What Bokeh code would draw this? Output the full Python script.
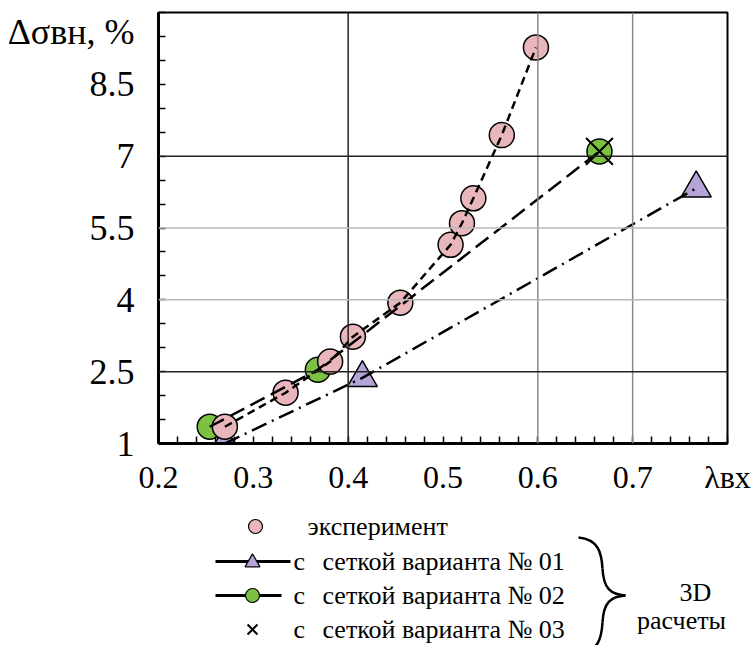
from bokeh.plotting import figure
from bokeh.models import FixedTicker, Span, Range1d
from bokeh.layouts import column
from bokeh.core.properties import value
from bokeh.embed import file_html
from bokeh.resources import INLINE

# ---------------- data ----------------
exp_x = [0.270, 0.334, 0.381, 0.405, 0.455, 0.508, 0.520, 0.532, 0.562, 0.598]
exp_y = [1.35, 2.06, 2.71, 3.23, 3.94, 5.15, 5.60, 6.12, 7.44, 9.27]
v01_x = [0.270, 0.415, 0.767]
v01_y = [1.00, 2.37, 6.33]
v02_x = [0.254, 0.368, 0.665]
v02_y = [1.35, 2.54, 7.10]
v03_x = [0.665]
v03_y = [7.10]

x_ticks = [0.2, 0.3, 0.4, 0.5, 0.6, 0.7]
y_ticks = [1, 2.5, 4, 5.5, 7, 8.5]
x_minor = [round(0.2 + 0.02 * i, 2) for i in range(31)]
y_minor = [1 + 0.5 * i for i in range(19)]
grid_dark_x = [0.4]
grid_light_x = [0.6, 0.7]
grid_dark_y = [2.5, 7]
grid_light_y = [4, 5.5]

x_title = "λвх"
y_title = "Δσвн, %"
x_title_pos = 0.8
y_title_pos = 9.6

legend_labels = ["эксперимент", "сеткой варианта № 01", "сеткой варианта № 02", "сеткой варианта № 03"]
legend_prefix = "с"
group_label = ["3D", "расчеты"]

FONT = "Liberation Serif"
PINK = "#E9B7BB"
GREEN = "#7CC142"
PURPLE = "#B5A4D8"

# ---------------- main plot ----------------
p = figure(width=755, height=508, x_range=Range1d(0.2, 0.8), y_range=Range1d(1, 10),
           output_backend="svg", toolbar_location=None,
           min_border_left=158, min_border_right=28, min_border_top=12, min_border_bottom=65)
p.background_fill_color = "white"
p.border_fill_color = "white"
p.outline_line_color = "black"
p.outline_line_width = 2
p.grid.visible = False

xt = x_ticks + [x_title_pos]
yt = y_ticks + [y_title_pos]
p.xaxis.ticker = FixedTicker(ticks=xt, minor_ticks=x_minor)
p.yaxis.ticker = FixedTicker(ticks=yt, minor_ticks=y_minor)
xo = {t: f"{t:.1f}" for t in x_ticks}
xo[x_title_pos] = x_title
yo = {t: (f"{t:g}") for t in y_ticks}
yo[y_title_pos] = y_title
p.xaxis.major_label_overrides = xo
p.yaxis.major_label_overrides = yo
for ax in (p.xaxis, p.yaxis):
    ax.axis_line_width = 3
    ax.axis_line_color = "black"
    ax.major_tick_in = 0
    ax.major_tick_out = 0
    ax.minor_tick_in = 7
    ax.minor_tick_out = 0
    ax.minor_tick_line_width = 1.5
    ax.minor_tick_line_color = "black"
    ax.major_label_text_font = FONT
    ax.major_label_text_color = "black"
p.xaxis.major_label_text_font_size = "32px"
p.yaxis.major_label_text_font_size = "36px"
p.xaxis.major_label_standoff = 15
p.yaxis.major_label_standoff = 24

for xv in grid_dark_x:
    p.add_layout(Span(location=xv, dimension="height", line_color="#222222", line_width=1.5))
for xv in grid_light_x:
    p.add_layout(Span(location=xv, dimension="height", line_color="#8a8a8a", line_width=1.5))
for yv in grid_dark_y:
    p.add_layout(Span(location=yv, dimension="width", line_color="#222222", line_width=1.5))
for yv in grid_light_y:
    p.add_layout(Span(location=yv, dimension="width", line_color="#b8b8b8", line_width=1.5))

# markers
p.scatter(v01_x, v01_y, marker="triangle", size=30, fill_color=PURPLE, line_color="black", line_width=1.5)
p.scatter(v02_x, v02_y, marker="circle", size=25, fill_color=GREEN, line_color="black", line_width=1.5)
p.scatter(v03_x, v03_y, marker="x", size=38, line_color="black", line_width=2)
p.scatter(exp_x, exp_y, marker="circle", size=25, fill_color=PINK, line_color="black", line_width=1.5)

# lines
p.line(v01_x, v01_y, line_color="black", line_width=2.5, line_dash="16 6 2 6")
p.line(v02_x, v02_y, line_color="black", line_width=2.5, line_dash="16 7")
p.line(exp_x, exp_y, line_color="black", line_width=2.5, line_dash="8 5")

# ---------------- legend panel ----------------
# frame aligned with the main plot frame; x range in page pixels, y downward
p2 = figure(width=755, height=137, x_range=Range1d(158, 727), y_range=Range1d(137, 0),
            output_backend="svg", toolbar_location=None,
            min_border_left=158, min_border_right=28, min_border_top=0, min_border_bottom=0,
            x_axis_location=None, y_axis_location=None)
p2.grid.visible = False
p2.outline_line_color = None
p2.background_fill_color = "white"
p2.border_fill_color = "white"

rows_y = [18, 53, 87, 121]
# row 1: experiment
p2.scatter([255], [rows_y[0]], marker="circle", size=14, fill_color=PINK, line_color="black", line_width=1.2)
# row 2: variant 01
p2.line([215, 290], [rows_y[1], rows_y[1]], line_color="black", line_width=3)
p2.scatter([252], [rows_y[1] + 1], marker="triangle", size=15, fill_color=PURPLE, line_color="black", line_width=1.2)
# row 3: variant 02
p2.line([215, 281], [rows_y[2], rows_y[2]], line_color="black", line_width=3)
p2.scatter([252], [rows_y[2]], marker="circle", size=14, fill_color=GREEN, line_color="black", line_width=1.2)
# row 4: variant 03
p2.scatter([252], [rows_y[3]], marker="x", size=14, line_color="black", line_width=2)

p2.text(x=[307], y=[rows_y[0]], text=[legend_labels[0]], text_font=value(FONT), text_font_size="26px",
        text_baseline="middle", text_align="left")
p2.text(x=[293, 293, 293], y=rows_y[1:], text=[legend_prefix] * 3, text_font=value(FONT),
        text_font_size="26px", text_baseline="middle", text_align="left")
p2.text(x=[322, 322, 322], y=rows_y[1:], text=legend_labels[1:], text_font=value(FONT),
        text_font_size="26px", text_baseline="middle", text_align="left")

# brace
p2.bezier(x0=[578, 602], y0=[29, 60], x1=[602, 625], y1=[60, 87],
          cx0=[598, 603], cy0=[31, 80], cx1=[601, 610], cy1=[44, 86],
          line_color="black", line_width=2.5)
p2.bezier(x0=[625, 602], y0=[87, 114], x1=[602, 578], y1=[114, 145],
          cx0=[610, 601], cy0=[88, 130], cx1=[603, 598], cy1=[94, 143],
          line_color="black", line_width=2.5)
p2.text(x=[695, 681], y=[84, 112], text=group_label, text_font=value(FONT), text_font_size="26px",
        text_baseline="middle", text_align="center")

layout = column(p, p2, spacing=0)
open("out.html", "w").write(file_html(layout, INLINE))
